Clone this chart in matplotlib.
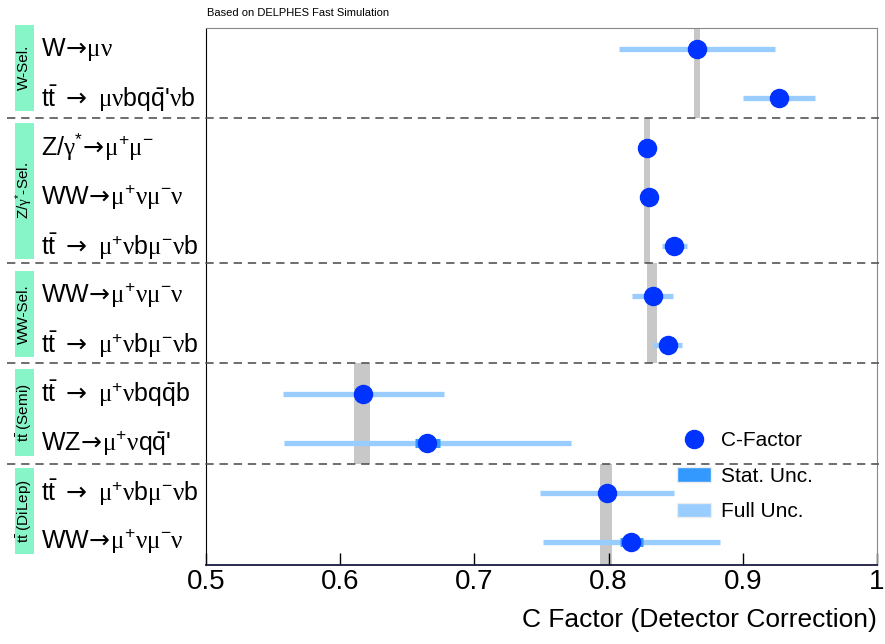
import matplotlib
matplotlib.use('Agg')
import numpy as np
import matplotlib.pyplot as plt
import matplotlib.transforms as mtransforms
from matplotlib.lines import Line2D
from matplotlib.patches import Patch, Rectangle

plt.rcParams['font.family'] = ['Liberation Sans', 'DejaVu Sans']
plt.rcParams['mathtext.fontset'] = 'custom'
plt.rcParams['mathtext.rm'] = 'Liberation Sans'
plt.rcParams['mathtext.it'] = 'Liberation Sans:italic'
plt.rcParams['mathtext.sf'] = 'Liberation Serif'   # used for the greek letters
plt.rcParams['mathtext.cal'] = 'DejaVu Sans'       # used for the arrows

AR = r'\mathcal{\rightarrow}'

# process labels, top to bottom
WW_LAB = r"WW$\!" + AR + r"\!\mathsf{\mu}^{+}\mathsf{\nu\mu}^{-}\mathsf{\nu}$"
TT_DIL = (r"t$\bar{\mathrm{t}}\ " + AR +
          r"\ \mathsf{\mu}^{+}\mathsf{\nu}$b$\mathsf{\mu}^{-}\mathsf{\nu}$b")
labels = [
    r"W$\!" + AR + r"\!\mathsf{\mu\nu}$",
    r"t$\bar{\mathrm{t}}\ " + AR + r"\ \mathsf{\mu\nu}$bq$\bar{\mathrm{q}}$'$\mathsf{\nu}$b",
    r"Z/$\mathsf{\gamma}^{*}\!" + AR + r"\!\mathsf{\mu}^{+}\mathsf{\mu}^{-}$",
    WW_LAB,
    TT_DIL,
    WW_LAB,
    TT_DIL,
    r"t$\bar{\mathrm{t}}\ " + AR + r"\ \mathsf{\mu}^{+}\mathsf{\nu}$bq$\bar{\mathrm{q}}$b",
    r"WZ$\!" + AR + r"\!\mathsf{\mu}^{+}\mathsf{\nu}$q$\bar{\mathrm{q}}$'",
    TT_DIL,
    WW_LAB,
]

cfactor  = [0.866, 0.927, 0.8286, 0.830, 0.849, 0.833, 0.844, 0.617, 0.665, 0.799, 0.817]
stat_err = [0.003, 0.003, 0.002, 0.002, 0.003, 0.003, 0.003, 0.004, 0.0095, 0.004, 0.0085]
full_err = [0.058, 0.027, 0.003, 0.003, 0.0095, 0.0153, 0.011, 0.060, 0.107, 0.050, 0.066]

# selection groups
groups = ['W-Sel.', r'Z/$\mathsf{\gamma}^{*}$-Sel.', 'WW-Sel.',
          r't$\bar{\mathrm{t}}$ (Semi)', r't$\bar{\mathrm{t}}$ (DiLep)']
group_rows = [(0, 1), (2, 4), (5, 6), (7, 8), (9, 10)]
group_mean = [0.866, 0.8286, 0.8323, 0.616, 0.798]
group_band = [0.0022, 0.0019, 0.0034, 0.006, 0.0043]
bounds = [-0.45, 1.4, 4.35, 6.37, 8.42, 10.5]

blue = '#0033ff'
stat_c = '#3399ff'
full_c = '#99ccff'

fig = plt.figure(figsize=(8.85, 6.44), dpi=100)
ax = fig.add_axes([0.2328, 0.1227, 0.7582, 0.8338])

y = np.arange(len(cfactor))

for g in range(len(groups)):
    ax.fill_betweenx([bounds[g], bounds[g + 1]],
                     group_mean[g] - group_band[g], group_mean[g] + group_band[g],
                     color='#c8c8c8', lw=0, zorder=1)

ax.hlines(y, np.array(cfactor) - np.array(full_err), np.array(cfactor) + np.array(full_err),
          color=full_c, lw=3.8, zorder=2)
ax.hlines(y, np.array(cfactor) - np.array(stat_err), np.array(cfactor) + np.array(stat_err),
          color=stat_c, lw=6.5, zorder=3)
ax.plot(cfactor, y, 'o', color=blue, ms=13, zorder=4)

ax.set_xlim(0.5, 1.0)
ax.set_ylim(10.47, -0.43)
ax.set_yticks([])
ax.set_xticks([0.5, 0.6, 0.7, 0.8, 0.9, 1.0])
ax.set_xticklabels(['0.5', '0.6', '0.7', '0.8', '0.9', '1'])
ax.tick_params(axis='x', direction='in', length=9, width=1, labelsize=20, pad=3)
ax.set_xlabel('C Factor (Detector Correction)', fontsize=19, loc='right', labelpad=9)

ax.spines['left'].set_color('black')
ax.spines['bottom'].set_color('#1a1a40')
ax.spines['bottom'].set_linewidth(1.3)
ax.spines['top'].set_color('#888888')
ax.spines['right'].set_color('#888888')

trans = mtransforms.blended_transform_factory(fig.transFigure, ax.transData)

# dashed separators across the whole width
for b in bounds[1:-1]:
    ax.plot([0.008, 0.993], [b, b], transform=trans, color='#555555', lw=1.2,
            ls=(0, (5, 3.5)), clip_on=False, zorder=5)

# process labels
for i, lab in enumerate(labels):
    ax.text(0.046, i, lab, transform=trans, fontsize=18, va='center', ha='left')

# group labels in green boxes
for g, (r0, r1) in enumerate(group_rows):
    top = r0 - 0.5
    bot = r1 + 0.25
    rect = Rectangle((0.017, top), 0.021, bot - top, transform=trans,
                     facecolor='#88f5c8', edgecolor='none', clip_on=False)
    ax.add_patch(rect)
    ax.text(0.0275, (top + bot) / 2, groups[g], transform=trans, rotation=90,
            fontsize=11, ha='center', va='center')

handles = [Line2D([], [], marker='o', ls='', color=blue, ms=13),
           Patch(facecolor=stat_c, edgecolor='#eeeeee'),
           Patch(facecolor=full_c, edgecolor='#eeeeee')]
leg = ax.legend(handles, ['C-Factor', 'Stat. Unc.', 'Full Unc.'], frameon=False, fontsize=15,
                loc='lower left', bbox_to_anchor=(0.69, 0.066), handlelength=1.6,
                handletextpad=0.5, labelspacing=0.8, borderaxespad=0)
leg.set_zorder(6)

fig.text(0.234, 0.972, 'Based on DELPHES Fast Simulation', fontsize=8, ha='left', va='bottom')

fig.savefig('out.png', dpi=100)
